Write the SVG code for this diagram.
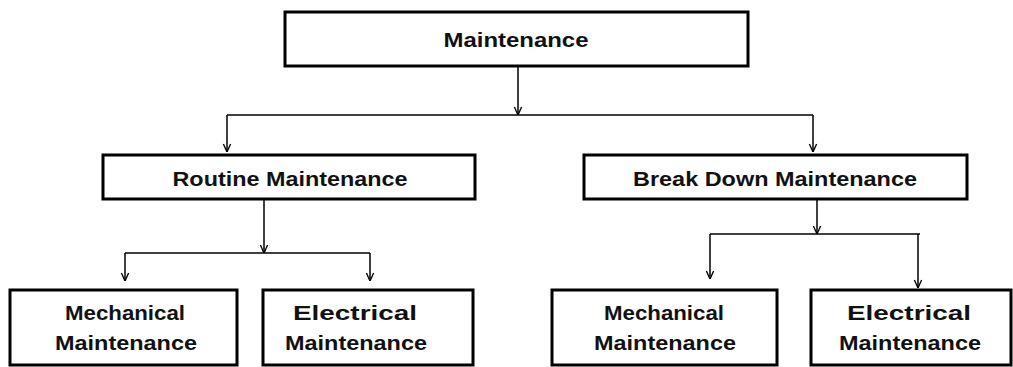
<svg xmlns="http://www.w3.org/2000/svg" width="1013" height="367" viewBox="0 0 1013 367">
<style>
.box{fill:#fff;stroke:#000;stroke-width:3}
.t{font-family:"Liberation Sans",Arial,sans-serif;font-weight:bold;font-size:21px;fill:#111;text-anchor:middle}
.c{fill:none;stroke:#000;stroke-width:1.5}
</style>
<defs>
<marker id="ah" viewBox="0 0 10 10" refX="10" refY="5" markerWidth="9" markerHeight="10" markerUnits="userSpaceOnUse" orient="auto">
<path d="M1,1 L10,5 L1,9" fill="none" stroke="#000" stroke-width="1.5"/>
</marker>
</defs>
<rect width="1013" height="367" fill="#fff"/>
<g id="connectors">
<path class="c" d="M518,66 V115" marker-end="url(#ah)"/>
<path class="c" d="M227,115 H813"/>
<path class="c" d="M227,115 V152" marker-end="url(#ah)"/>
<path class="c" d="M813,115 V152" marker-end="url(#ah)"/>
<path class="c" d="M264,199 V253" marker-end="url(#ah)"/>
<path class="c" d="M125,253 H370"/>
<path class="c" d="M125,253 V281" marker-end="url(#ah)"/>
<path class="c" d="M370,253 V281" marker-end="url(#ah)"/>
<path class="c" d="M817,199 V234" marker-end="url(#ah)"/>
<path class="c" d="M710,234 H920"/>
<path class="c" d="M710,234 V279" marker-end="url(#ah)"/>
<path class="c" d="M918,234 V288" marker-end="url(#ah)"/>
</g>
<g id="maintenance">
<rect class="box" x="285" y="12" width="463" height="54"/>
<text class="t" x="516" y="47" textLength="145" lengthAdjust="spacingAndGlyphs">Maintenance</text>
</g>
<g id="routine">
<rect class="box" x="103" y="155" width="372" height="44"/>
<text class="t" x="290" y="186" textLength="235" lengthAdjust="spacingAndGlyphs">Routine Maintenance</text>
</g>
<g id="breakdown">
<rect class="box" x="584" y="155" width="383" height="44"/>
<text class="t" x="775" y="186" textLength="284" lengthAdjust="spacingAndGlyphs">Break Down Maintenance</text>
</g>
<g id="mech1">
<rect class="box" x="10" y="290" width="227" height="75"/>
<text class="t" x="125" y="320" textLength="120" lengthAdjust="spacingAndGlyphs">Mechanical</text>
<text class="t" x="126" y="350" textLength="142" lengthAdjust="spacingAndGlyphs">Maintenance</text>
</g>
<g id="elec1">
<rect class="box" x="263" y="290" width="210" height="75"/>
<text class="t" x="355" y="320" textLength="124" lengthAdjust="spacingAndGlyphs">Electrical</text>
<text class="t" x="356" y="350" textLength="142" lengthAdjust="spacingAndGlyphs">Maintenance</text>
</g>
<g id="mech2">
<rect class="box" x="552" y="290" width="225" height="75"/>
<text class="t" x="664" y="320" textLength="120" lengthAdjust="spacingAndGlyphs">Mechanical</text>
<text class="t" x="665" y="350" textLength="142" lengthAdjust="spacingAndGlyphs">Maintenance</text>
</g>
<g id="elec2">
<rect class="box" x="811" y="290" width="200" height="75"/>
<text class="t" x="909" y="320" textLength="124" lengthAdjust="spacingAndGlyphs">Electrical</text>
<text class="t" x="910" y="350" textLength="142" lengthAdjust="spacingAndGlyphs">Maintenance</text>
</g>
</svg>
